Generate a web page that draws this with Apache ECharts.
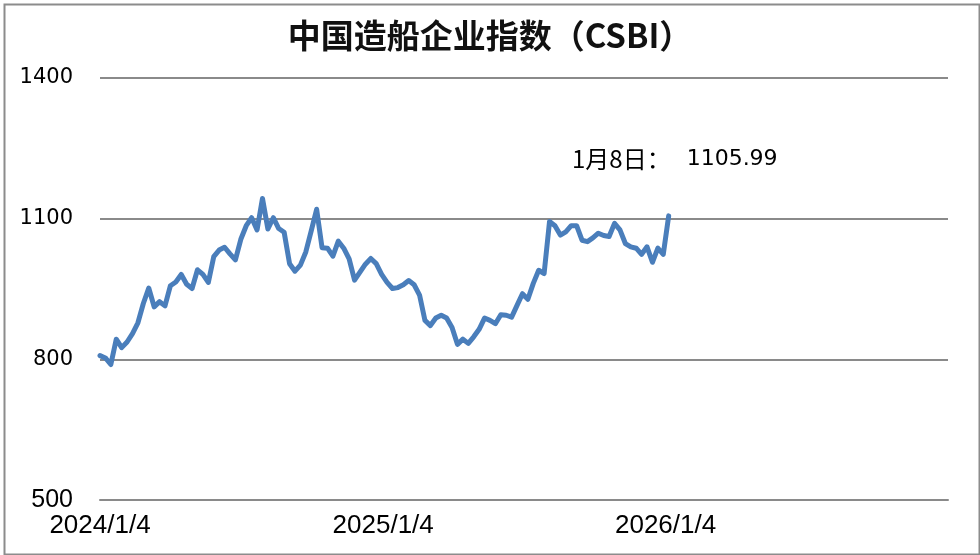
<!DOCTYPE html>
<html>
<head>
<meta charset="utf-8">
<script src="https://cdn.jsdelivr.net/npm/echarts@6/dist/echarts.min.js"></script>
<style>html,body{margin:0;padding:0;background:#fff}#c{width:980px;height:555px}</style>
</head>
<body>
<div id="c"></div>
<script>
const titleText = '中国造船企业指数（CSBI）';
const dates = [
'2024-01-04','2024-01-11','2024-01-18','2024-01-25','2024-02-01','2024-02-08','2024-02-15','2024-02-22','2024-02-29',
'2024-03-07','2024-03-14','2024-03-21','2024-03-28','2024-04-04','2024-04-11','2024-04-18','2024-04-25',
'2024-05-02','2024-05-09','2024-05-16','2024-05-23','2024-05-30','2024-06-06','2024-06-13','2024-06-20','2024-06-27',
'2024-07-04','2024-07-11','2024-07-18','2024-07-25','2024-08-01','2024-08-08','2024-08-15','2024-08-22','2024-08-29',
'2024-09-05','2024-09-12','2024-09-19','2024-09-26','2024-10-03','2024-10-10','2024-10-17','2024-10-24','2024-10-31',
'2024-11-07','2024-11-14','2024-11-21','2024-11-28','2024-12-05','2024-12-12','2024-12-19','2024-12-26',
'2025-01-02','2025-01-09','2025-01-16','2025-01-23','2025-01-30','2025-02-06','2025-02-13','2025-02-20','2025-02-27',
'2025-03-06','2025-03-13','2025-03-20','2025-03-27','2025-04-03','2025-04-10','2025-04-17','2025-04-24',
'2025-05-01','2025-05-08','2025-05-15','2025-05-22','2025-05-29','2025-06-05','2025-06-12','2025-06-19','2025-06-26',
'2025-07-03','2025-07-10','2025-07-17','2025-07-24','2025-07-31','2025-08-07','2025-08-14','2025-08-21','2025-08-28',
'2025-09-04','2025-09-11','2025-09-18','2025-09-25','2025-10-02','2025-10-09','2025-10-16','2025-10-23','2025-10-30',
'2025-11-06','2025-11-13','2025-11-20','2025-11-27','2025-12-04','2025-12-11','2025-12-18','2025-12-25',
'2026-01-01','2026-01-08'
];
const values = [
808, 803, 789, 843, 825, 837, 855, 878, 919, 952,
912, 923, 914, 957, 965, 981, 960, 951, 991, 981,
964, 1019, 1033, 1039, 1025, 1012, 1056, 1085, 1102, 1076,
1143, 1078, 1102, 1079, 1071, 1004, 988, 1001, 1029, 1074,
1120, 1038, 1037, 1020, 1052, 1037, 1014, 969, 986, 1003,
1015, 1004, 981, 964, 951, 953, 959, 968, 959, 937,
883, 872, 888, 894, 888, 868, 832, 843, 834, 848,
864, 888, 883, 876, 895, 894, 890, 915, 940, 928,
962, 990, 983, 1094, 1085, 1065, 1072, 1085, 1085, 1054,
1051, 1059, 1069, 1064, 1062, 1090, 1076, 1047, 1040, 1037,
1024, 1040, 1007, 1037, 1024, 1105.99
];
const tickDates = ['2024-01-04', '2025-01-04', '2026-01-04'];
const tickLabels = ['2024/1/4', '2025/1/4', '2026/1/4'];
const axisEndDate = '2027-01-04';
const yMin = 500, yMax = 1400, yStep = 300;

function dayNum(s) {
  const p = s.split('-').map(Number);
  return Date.UTC(p[0], p[1] - 1, p[2]) / 86400000;
}
const tickDays = tickDates.map(dayNum);
const lastDate = dates[dates.length - 1].split('-').map(Number);
const lastVal = values[values.length - 1];
const annotation = '{a|' + lastDate[1] + '月' + lastDate[2] + '日：}{b|' + lastVal.toFixed(2) + '}';

const chart = echarts.init(document.getElementById('c'), null, {renderer: 'canvas'});
chart.setOption({
  animation: false,
  backgroundColor: '#fff',
  title: {
    text: titleText, left: 'center', top: 14,
    textStyle: {fontFamily: 'Noto Sans CJK SC', fontSize: 33, fontWeight: 'bold', color: '#111'}
  },
  grid: {left: 100, right: 32, top: 78, bottom: 55, containLabel: false},
  xAxis: {
    type: 'value',
    min: dayNum(dates[0]), max: dayNum(axisEndDate),
    axisLine: {show: true, lineStyle: {color: '#8a8a8a', width: 2}},
    axisTick: {show: false},
    splitLine: {show: false},
    axisLabel: {
      customValues: tickDays,
      formatter: v => tickLabels[tickDays.indexOf(v)] || '',
      margin: 13,
      fontFamily: 'Liberation Sans',
      fontSize: 26, color: '#000'
    }
  },
  yAxis: {
    type: 'value', min: yMin, max: yMax, interval: yStep,
    axisLine: {show: false}, axisTick: {show: false},
    splitLine: {show: true, lineStyle: {color: '#8a8a8a', width: 2}},
    axisLabel: {
      margin: 27, color: '#000',
      fontFamily: 'DejaVu Sans', fontSize: 21,
      formatter: v => v === yMin ? '{n|' + v + '}' : String(v),
      rich: {n: {fontFamily: 'Liberation Sans', fontSize: 25, color: '#000'}}
    }
  },
  series: [{
    type: 'line',
    data: dates.map((d, i) => [dayNum(d), values[i]]),
    showSymbol: false,
    symbol: 'none',
    lineStyle: {color: '#4A7EBB', width: 5, join: 'round', cap: 'round'},
    z: 5
  }],
  graphic: [
    {type: 'rect', left: 2, top: 2, z: 100, silent: true,
     shape: {width: 975, height: 550},
     style: {fill: 'none', stroke: '#8c8c8c', lineWidth: 2}},
    {type: 'text', left: 572, top: 147, z: 100,
     style: {text: annotation, fill: '#000',
       rich: {
         a: {fontFamily: 'Noto Sans CJK SC', fontSize: 24, fill: '#000'},
         b: {fontFamily: 'DejaVu Sans', fontSize: 22, fill: '#000', padding: [0, 0, 0, 16]}
       }}}
  ]
});
</script>
</body>
</html>
